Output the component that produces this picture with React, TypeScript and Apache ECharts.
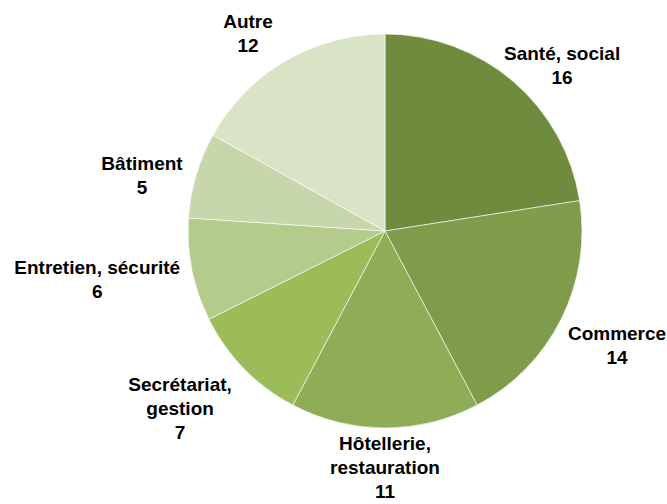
import React, { useEffect, useRef } from "react";
import * as echarts from "echarts";

const categories = [
  "Santé, social",
  "Commerce",
  "Hôtellerie,\nrestauration",
  "Secrétariat,\ngestion",
  "Entretien, sécurité",
  "Bâtiment",
  "Autre",
];
const values = [16, 14, 11, 7, 6, 5, 12];
const colors = ["#6f8b3e", "#7f9c4a", "#8ead56", "#9cbc5a", "#b3cb8b", "#c7d7ab", "#d8e4c5"];
// label offsets (label line lengths used only to place labels)
const lineLen = [21.5, 57.5, 39, 57.5, 50.7, 0.4, 31.5];
const lineLen2 = [35, 4.5, 0, 23, 45, 53.7, 21.3];

export default function App() {
  const ref = useRef<HTMLDivElement>(null);
  useEffect(() => {
    const chart = echarts.init(ref.current!, null, { renderer: "svg" });
    chart.setOption({
      animation: false,
      backgroundColor: "#ffffff",
      series: [
        {
          type: "pie",
          center: [385, 231],
          radius: 197,
          startAngle: 90,
          clockwise: true,
          avoidLabelOverlap: false,
          label: {
            show: true,
            position: "outside",
            alignTo: "none",
            distanceToLabelLine: 0,
            formatter: "{b}\n{c}",
            color: "#000000",
            fontFamily: "Liberation Sans, Arial, sans-serif",
            fontWeight: "bold",
            fontSize: 19,
            lineHeight: 24,
          },
          labelLine: { show: false },
          labelLayout: () => ({ align: "center", verticalAlign: "middle" }),
          itemStyle: { borderColor: "rgba(255,255,255,0.6)", borderWidth: 1 },
          emphasis: { disabled: true },
          data: categories.map((name, i) => ({
            name,
            value: values[i],
            itemStyle: { color: colors[i] },
            labelLine: { show: false, length: lineLen[i], length2: lineLen2[i] },
          })),
        },
      ],
    });
    return () => chart.dispose();
  }, []);
  return (
    <div
      ref={ref}
      style={{ position: "absolute", left: 0, top: 0, width: 667, height: 504 }}
    />
  );
}
